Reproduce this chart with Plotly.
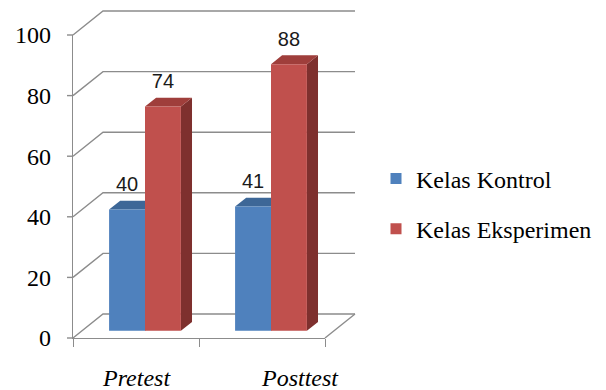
import plotly.graph_objects as go

# ---------------- data ----------------
categories = ["Pretest", "Posttest"]
series_names = ["Kelas Kontrol", "Kelas Eksperimen"]
kontrol = [40, 41]
eksperimen = [74, 88]
y_ticks = [0, 20, 40, 60, 80, 100]

series_values = [kontrol, eksperimen]
front_colors = ["#4F81BD", "#C0504D"]
top_colors = ["#3D6797", "#9F3E3B"]
side_colors = ["#36597F", "#7E302E"]
grid_color = "#8C8C8C"
SERIF = "Liberation Serif"

# ---------------- frame (pixel layout) ----------------
W, H = 606, 390
X0PX, X1PX = 73, 325      # front category axis extent
Y0PX, Y100PX = 338, 35    # front value axis extent
n = len(categories)
xpu = (X1PX - X0PX) / n
ypu = (Y0PX - Y100PX) / 100.0
x_range = [-X0PX / xpu, (W - X0PX) / xpu]
y_range = [-(H - Y0PX) / ypu, Y0PX / ypu]
DX = 30 / xpu             # full depth offset (x units)
DY = 24 / ypu             # full depth offset (value units)

HW = 0.285                # width of one bar (category units)
D0, D1 = 0.30, 0.67       # bar front / back depth fraction


def proj(x, v, d):
    return x + d * DX, v + d * DY


fig = go.Figure()

# ---------------- walls / gridlines ----------------
gx, gy = [], []
for v in y_ticks:
    for (x, d) in [(0, 0), (0, 1), (n, 1)]:
        px, py = proj(x, v, d)
        gx.append(px)
        gy.append(py)
    gx.append(None)
    gy.append(None)
for d in (0, 1):
    px, py = proj(n, 0, d)
    gx.append(px)
    gy.append(py)
fig.add_trace(go.Scatter(x=gx, y=gy, mode="lines", line=dict(color=grid_color, width=1.4),
                         hoverinfo="skip", showlegend=False, xaxis="x", yaxis="y"))


def poly_trace(pts_list, color):
    xs, ys = [], []
    for pts in pts_list:
        for (x, v, d) in pts:
            px, py = proj(x, v, d)
            xs.append(px)
            ys.append(py)
        xs.append(None)
        ys.append(None)
    return go.Scatter(x=xs, y=ys, mode="lines", fill="toself", fillcolor=color,
                      line=dict(width=0, color=color), hoverinfo="skip",
                      showlegend=False, xaxis="x", yaxis="y")


# ---------------- 3D bars ----------------
for s, vals in enumerate(series_values):
    sides, tops, fronts = [], [], []
    for i, v in enumerate(vals):
        xl = i + 0.5 - HW + s * HW
        xr = xl + HW
        fronts.append([(xl, 0, D0), (xr, 0, D0), (xr, v, D0), (xl, v, D0)])
        tops.append([(xl, v, D0), (xr, v, D0), (xr, v, D1), (xl, v, D1)])
        sides.append([(xr, 0, D0), (xr, v, D0), (xr, v, D1), (xr, 0, D1)])
    fig.add_trace(poly_trace(sides, side_colors[s]))
    fig.add_trace(poly_trace(tops, top_colors[s]))
    fig.add_trace(poly_trace(fronts, front_colors[s]))

# ---------------- data labels ----------------
lx, ly, lt = [], [], []
for s, vals in enumerate(series_values):
    for i, v in enumerate(vals):
        xc = i + 0.5 - HW / 2 + s * HW
        px, py = proj(xc, v, D1)
        lx.append(xc + D0 * DX)
        ly.append(py + 1.5)
        lt.append(str(v))
fig.add_trace(go.Scatter(x=lx, y=ly, text=lt, mode="text", textposition="top center",
                         textfont=dict(family="Arial", size=20, color="#1a1a1a"),
                         hoverinfo="skip", showlegend=False, xaxis="x", yaxis="y",
                         cliponaxis=False))

# ---------------- legend entries ----------------
for s, name in enumerate(series_names):
    fig.add_trace(go.Scatter(x=[None], y=[None], mode="markers", name=name,
                             legendgroup=name,
                             marker=dict(symbol="square", size=11, color=front_colors[s]),
                             xaxis="x", yaxis="y"))

# ---------------- axes ----------------
fig.update_layout(
    width=W, height=H,
    font=dict(family=SERIF, size=24, color="black"),
    margin=dict(l=0, r=0, t=0, b=0, autoexpand=False),
    paper_bgcolor="white",
    plot_bgcolor="rgba(0,0,0,0)",
    xaxis=dict(domain=[0, 1], range=x_range, visible=False, fixedrange=True),
    yaxis=dict(domain=[0, 1], range=y_range, visible=False, fixedrange=True),
    xaxis2=dict(domain=[X0PX / W, X1PX / W], range=[0, n], anchor="y2",
                showgrid=False, zeroline=False, showline=True, linecolor=grid_color,
                linewidth=1.4, ticks="outside", tickvals=list(range(n + 1)),
                ticklen=8, tickcolor=grid_color, tickwidth=1.4,
                showticklabels=False, fixedrange=True),
    yaxis2=dict(domain=[(H - Y0PX) / H, (H - Y100PX) / H], range=[0, 100], anchor="x2",
                showgrid=False, zeroline=False, showline=True, linecolor=grid_color,
                linewidth=1.4, ticks="outside", tickvals=y_ticks, ticklen=16,
                tickcolor="rgba(0,0,0,0)", tickwidth=1.4,
                tickfont=dict(family=SERIF, size=24, color="black"),
                fixedrange=True),
    legend=dict(x=376 / W, xanchor="left", y=(H - 204) / H, yanchor="middle",
                font=dict(family=SERIF, size=24, color="black"),
                traceorder="grouped", tracegroupgap=16, bgcolor="rgba(0,0,0,0)"),
    showlegend=True,
)

# short visible y tick marks (front plane, left of the value axis)
tkx, tky = [], []
for v in y_ticks:
    tkx += [-6 / xpu, 0, None]
    tky += [v, v, None]
fig.add_trace(go.Scatter(x=tkx, y=tky, mode="lines", line=dict(color=grid_color, width=1.4),
                         hoverinfo="skip", showlegend=False, xaxis="x", yaxis="y"))

# category labels
label_pos = [0.5, 1.8]
for c, xpos in zip(categories, label_pos):
    fig.add_annotation(x=xpos, xref="x2", y=(H - 378) / H, yref="paper",
                       text="<i>" + c + "</i>", showarrow=False, yanchor="middle",
                       font=dict(family=SERIF, size=24, color="black"))

fig.write_html("out.html")
